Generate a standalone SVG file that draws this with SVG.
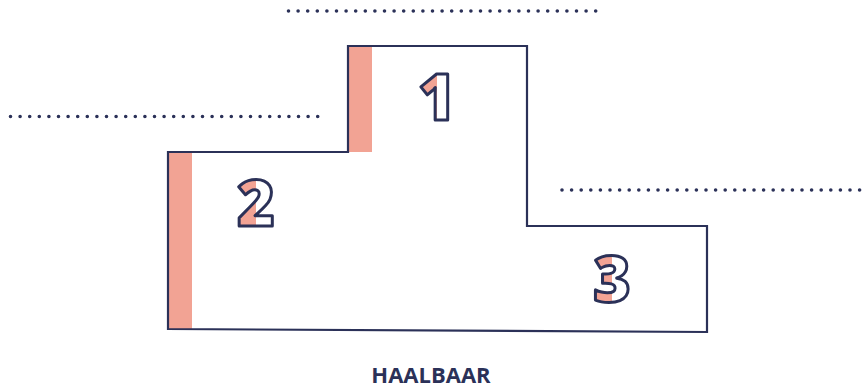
<svg xmlns="http://www.w3.org/2000/svg" width="868" height="390" viewBox="0 0 868 390">
<defs>
<linearGradient id="half" x1="0" y1="0" x2="1" y2="0">
<stop offset="0.5" stop-color="#f2a394"/>
<stop offset="0.5" stop-color="#ffffff"/>
</linearGradient>
<style>
.dots{stroke:#2b3158;stroke-width:3.6;stroke-linecap:round;stroke-dasharray:0 9.6;fill:none}
.outline{fill:none;stroke:#2b3158;stroke-width:2.2}
.bar{fill:#f2a394}
.num{font-family:"Open Sans","DejaVu Sans",sans-serif;font-weight:800;font-size:64px;fill:url(#half);stroke:#2b3158;stroke-width:3;stroke-linejoin:round;text-anchor:middle}
.label{font-family:"Open Sans","Liberation Sans",sans-serif;font-weight:700;font-size:22px;fill:#2b3158;text-anchor:middle}
</style>
</defs>
<rect width="868" height="390" fill="#ffffff"/>
<g id="dotted-lines">
<line class="dots" x1="288.5" y1="11" x2="596" y2="11"/>
<line class="dots" x1="10.5" y1="116.5" x2="318" y2="116.5"/>
<line class="dots" x1="562" y1="190" x2="868" y2="190"/>
</g>
<g id="podium">
<rect class="bar" x="169" y="153" width="23" height="176"/>
<rect class="bar" x="349" y="47" width="23" height="105"/>
<polygon class="outline" points="168,152 348,152 348,46 527,46 527,226 707,226 707,332 168,329"/>
</g>
<g id="place-1"><text class="num" x="437" y="120">1</text></g>
<g id="place-2"><text class="num" x="256" y="226">2</text></g>
<g id="place-3"><text class="num" x="612" y="302">3</text></g>
<g id="title"><text class="label" x="431" y="383">HAALBAAR</text></g>
</svg>
